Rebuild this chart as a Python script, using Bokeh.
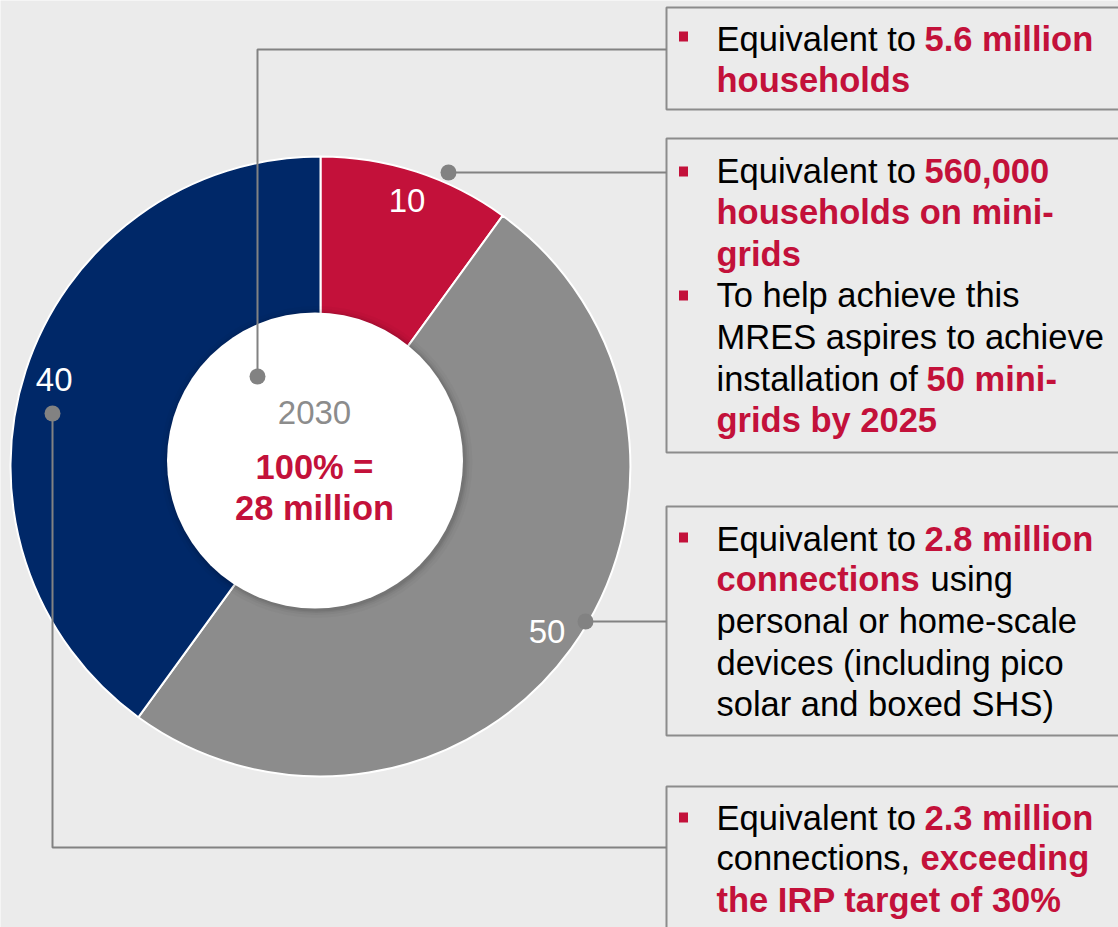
import math
from bokeh.plotting import figure
from bokeh.models import Range1d, ColumnDataSource
from bokeh.core.properties import value
from bokeh.embed import file_html
from bokeh.resources import INLINE

# ---------------- data ----------------
segments = ["Mini-grids", "Stand-alone devices", "Grid"]
shares = [10, 50, 40]                      # % of 2030 connections
slice_colors = ["#C3113A", "#8C8C8C", "#002868"]

center_year = "2030"
center_total = ["100% =", "28 million"]

box1_text = [[("Equivalent to ", 0), ("5.6 million", 1)],
             [("households", 1)]]
box2_text = [[("Equivalent to ", 0), ("560,000", 1)],
             [("households on mini-", 1)],
             [("grids", 1)],
             [("To help achieve this", 0)],
             [("MRES aspires to achieve", 0)],
             [("installation of ", 0), ("50 mini-", 1)],
             [("grids by 2025", 1)]]
box3_text = [[("Equivalent to ", 0), ("2.8 million", 1)],
             [("connections", 1), ("using", 0)],
             [("personal or home-scale", 0)],
             [("devices (including pico", 0)],
             [("solar and boxed SHS)", 0)]]
box4_text = [[("Equivalent to ", 0), ("2.3 million", 1)],
             [("connections, ", 0), ("exceeding", 1)],
             [("the IRP target of 30%", 1)]]

# ---------------- layout (screen pixels of the page) ----------------
BG = "#EBEBEB"
RED = "#C3113A"
LINE_GRAY = "#828282"
BOX_GRAY = "#8C8C8C"
FSZ = 34.5
FS = f"{FSZ}px"
FONT = value("Liberation Sans")

W, H = 1118, 927
def X(px):
    return px
def Y(py):
    return H - py
def YB(py, size):
    # baseline correction for svg text placement
    return H - (py - 0.35 * size)

p = figure(width=W, height=H, x_range=Range1d(0, W), y_range=Range1d(0, H),
           output_backend="svg", toolbar_location=None, min_border=0,
           background_fill_color=BG, border_fill_color=BG, outline_line_color=None)
p.axis.visible = False
p.grid.visible = False

# ---------------- donut ----------------
CX, CY = X(320), Y(466)
R_OUT = 310
HX, HY, R_HOLE = X(314.5), Y(460), 148
total = sum(shares)
starts, ends, mids = [], [], []
cum = 0
for v in shares:
    s = 90 - cum / total * 360
    cum += v
    e = 90 - cum / total * 360
    starts.append(math.radians(s))
    ends.append(math.radians(e))
    mids.append(math.radians((s + e) / 2))

src = ColumnDataSource(dict(start=starts, end=ends, color=slice_colors, seg=segments))
p.annular_wedge(x=CX, y=CY, inner_radius=100, outer_radius=R_OUT,
                start_angle="start", end_angle="end",
                direction="clock", fill_color="color", line_color="white",
                line_width=2, source=src)

# soft shadow round the centre disc
for k, a in [(8, 0.025), (5, 0.035), (3, 0.05), (1.5, 0.06)]:
    p.annulus(x=HX + 1.5, y=HY - 1.5, inner_radius=R_HOLE - 2, outer_radius=R_HOLE + k,
              fill_color="black", fill_alpha=a, line_color=None)
p.circle(x=HX, y=HY, radius=R_HOLE, fill_color="white", line_color=None)

# slice labels
LR = 280
lab = ColumnDataSource(dict(
    x=[CX + LR * math.cos(m) for m in mids],
    y=[CY + LR * math.sin(m) for m in mids],
    t=[str(v) for v in shares]))
p.text(x="x", y="y", text="t", source=lab, text_color="white",
       text_font=FONT, text_font_size="33px",
       text_align="center", text_baseline="middle")

# centre text
p.text(x=[X(314)], y=[YB(424, 33)], text=[center_year], text_color="#8C8C8C",
       text_font=FONT, text_font_size="33px",
       text_align="center", text_baseline="alphabetic")
p.text(x=[X(314), X(314)], y=[YB(479, FSZ), YB(520, FSZ)], text=center_total,
       text_color=RED, text_font=FONT, text_font_size=FS,
       text_font_style="bold", text_align="center", text_baseline="alphabetic")

# ---------------- boxes ----------------
boxes = [(7, 109), (138, 452), (506, 735), (786, 960)]
p.quad(left=[X(666)] * 4, right=[X(1140)] * 4,
       top=[Y(t) for t, b in boxes], bottom=[Y(b) for t, b in boxes],
       fill_color=None, line_color=BOX_GRAY, line_width=2)

# connectors
conn_x = [[666, 257, 257], [666, 448], [666, 585], [52, 52, 666]]
conn_y = [[49, 49, 376], [172, 172], [621, 621], [413, 847, 847]]
p.multi_line(xs=[[X(v) for v in xs] for xs in conn_x],
             ys=[[Y(v) for v in ys] for ys in conn_y],
             line_color=LINE_GRAY, line_width=2)
dot_x = [257, 448, 585, 52]
dot_y = [376, 172, 621, 413]
p.scatter(x=[X(v) for v in dot_x], y=[Y(v) for v in dot_y], marker="circle",
          size=16, fill_color=LINE_GRAY, line_color=None)

# bullets
bul_y = [36, 171, 295, 537, 817]
p.rect(x=[X(683)] * len(bul_y), y=[Y(v) for v in bul_y], width=9, height=10,
       fill_color=RED, line_color=None)

# box texts
box_texts = [box1_text, box2_text, box3_text, box4_text]
baselines = [[51, 92],
             [183, 224, 266, 307, 349, 391, 432],
             [551, 591, 633, 675, 716],
             [830, 870, 912]]
second_x = [[924, None],
            [924, None, None, None, None, 926, None],
            [924, 930, None, None, None],
            [924, 920, None]]

norm = dict(x=[], y=[], t=[])
bold = dict(x=[], y=[], t=[])
for lines, bls, sxs in zip(box_texts, baselines, second_x):
    for segs, bl, sx in zip(lines, bls, sxs):
        for i, (txt, isbold) in enumerate(segs):
            xx = 716 if i == 0 else sx
            d = bold if isbold else norm
            d["x"].append(X(xx))
            d["y"].append(YB(bl, FSZ))
            d["t"].append(txt)

p.text(x="x", y="y", text="t", source=ColumnDataSource(norm), text_color="black",
       text_font=FONT, text_font_size=FS, text_baseline="alphabetic")
p.text(x="x", y="y", text="t", source=ColumnDataSource(bold), text_color=RED,
       text_font=FONT, text_font_size=FS, text_font_style="bold",
       text_baseline="alphabetic")

open("out.html", "w").write(file_html(p, INLINE))
